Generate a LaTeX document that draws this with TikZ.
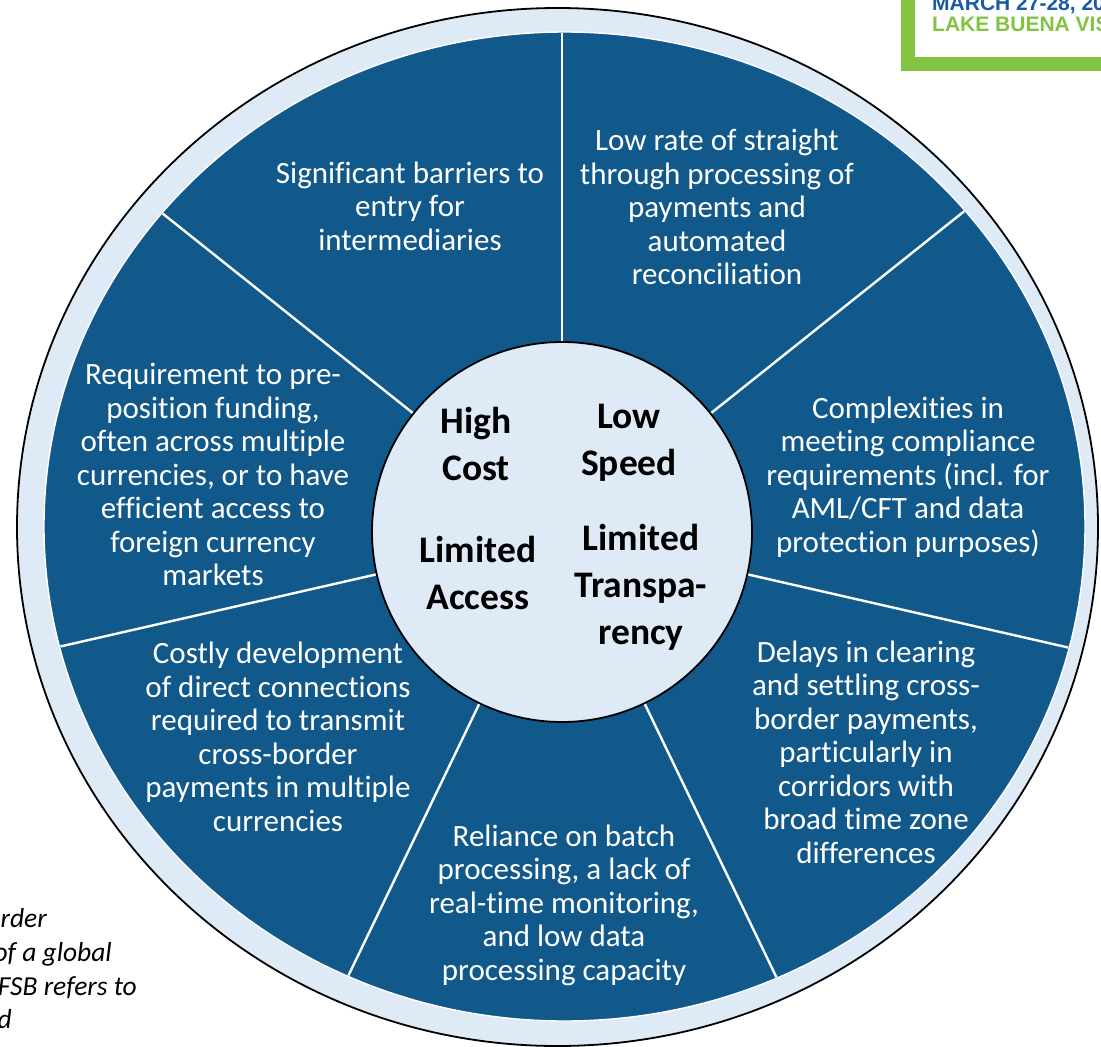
\documentclass[tikz,border=0pt]{standalone}
\usepackage{fontspec}
\setmainfont{Carlito}[Ligatures=NoCommon]
\newfontfamily\logofont{Liberation Sans}
\definecolor{ringblue}{RGB}{222,234,246}
\definecolor{sectorblue}{RGB}{18,89,139}
\definecolor{logogreen}{RGB}{130,195,65}
\definecolor{logoblue}{RGB}{26,90,164}
\tikzset{
  sector/.style={text=white, align=center, inner sep=0pt, font=\fontsize{31}{33.5}\selectfont},
  corelabel/.style={text=black, align=center, inner sep=0pt, font=\bfseries\fontsize{37.5}{47}\selectfont},
  divider/.style={draw=white, line width=2.4pt},
  footline/.style={text=black, inner sep=0pt, font=\itshape\fontsize{27.5}{33.5}\selectfont},
  logotext/.style={inner sep=0pt, anchor=base west, font=\logofont\bfseries\fontsize{21}{24}\selectfont}
}
\begin{document}
\begin{tikzpicture}[x=1pt,y=-1pt]
\useasboundingbox (0,0) rectangle (1101,1047);
\clip (0,0) rectangle (1101,1047);
% outer light ring
\draw[fill=ringblue, draw=black, line width=1.8pt] (557.5,527) ellipse [x radius=540.5pt, y radius=519pt];
% dark disc
\draw[fill=sectorblue, draw=white, line width=1.4pt] (564.5,526.5) ellipse [x radius=520.5pt, y radius=494.5pt];
% dividers
\begin{scope}
  \clip (564.5,526.5) ellipse [x radius=519.5pt, y radius=493.5pt];
  \foreach \a in {90,38.571,-12.857,-64.286,-115.714,-167.143,141.429}{
    \draw[divider, shift={(562,532)}] (\a:185pt) -- (\a:720pt);
  }
\end{scope}
% core circle
\node[circle, draw=black, fill=ringblue, line width=1.8pt, minimum size=380pt, inner sep=0pt] (core) at (562,532) {};
% sector texts
\node[sector] (barriers) at (410,209.8) {\strut Significant barriers to\\ entry for\\ intermediaries\strut};
\node[sector] (stp) at (717,210.8) {\strut Low rate of straight\\ through processing of\\ payments and\\ automated\\ reconciliation\strut};
\node[sector] (compliance) at (908,478.3) {\strut Complexities in\\ meeting compliance\\ requirements (incl. for\\ AML/CFT and data\\ protection purposes)\strut};
\node[sector] (delays) at (866,755.8) {\strut Delays in clearing\\ and settling cross-\\ border payments,\\ particularly in\\ corridors with\\ broad time zone\\ differences\strut};
\node[sector] (batch) at (564,906.3) {\strut Reliance on batch\\ processing, a lack of\\ real-time monitoring,\\ and low data\\ processing capacity\strut};
\node[sector] (connections) at (278,740.8) {\strut Costly development\\ of direct connections\\ required to transmit\\ cross-border\\ payments in multiple\\ currencies\strut};
\node[sector] (funding) at (213,478.3) {\strut Requirement to pre-\\ position funding,\\ often across multiple\\ currencies, or to have\\ efficient access to\\ foreign currency\\ markets\strut};
% core labels
\node[corelabel] (cost) at (476,447.1) {\strut High\\ Cost\strut};
\node[corelabel] (speed) at (629,442.1) {\strut Low\\ Speed\strut};
\node[corelabel] (access) at (478,576.1) {\strut Limited\\ Access\strut};
\node[corelabel] (transparency) at (641,588.1) {\strut Limited\\ Transpa-\\ rency\strut};
% logo frame (top right)
\draw[draw=logogreen, fill=white, line width=14pt] (908,-30) rectangle (1140,64);
\node[logotext, text=logoblue] (logodate) at (932,10) {MARCH 27-28, 20};
\node[logotext, text=logogreen] (logoplace) at (932,31) {LAKE BUENA VIS};
% footnote fragments (left edge)
\node[footline, anchor=base east] (foot1) at (47,927) {rder};
\node[footline, anchor=base east] (foot2) at (112,961) {of a global};
\node[footline, anchor=base east] (foot3) at (137,995) {FSB refers to};
\node[footline, anchor=base east] (foot4) at (12,1028) {d};
\end{tikzpicture}
\end{document}
